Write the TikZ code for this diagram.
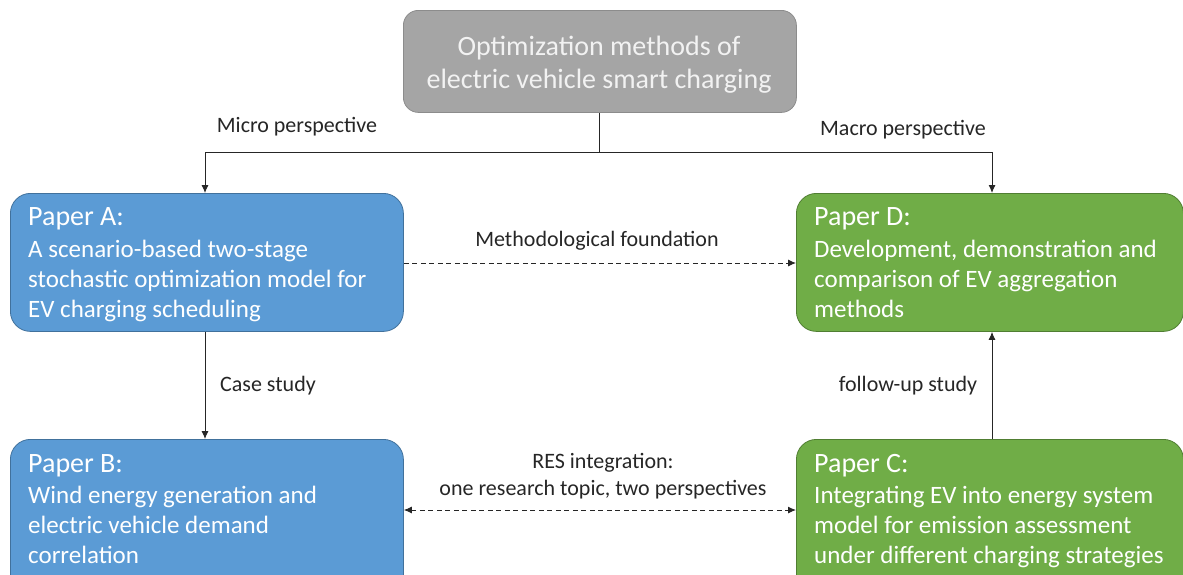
\documentclass[tikz,border=0pt]{standalone}
\usepackage{fontspec}
\setmainfont{Carlito}
\usetikzlibrary{arrows.meta}
\definecolor{gbox}{HTML}{A5A5A5}
\definecolor{gline}{HTML}{8C8C8C}
\definecolor{bbox}{HTML}{5B9BD5}
\definecolor{bline}{HTML}{41719C}
\definecolor{grbox}{HTML}{70AD47}
\definecolor{grline}{HTML}{507E32}
\definecolor{txtw}{HTML}{F2F2F2}
\tikzset{
  paperbox/.style={draw, line width=0.8pt, rounded corners=20pt, inner sep=0pt},
  ttl/.style={anchor=base west, inner sep=0pt, text=white, font=\fontsize{28}{32}\selectfont},
  body/.style={anchor=base west, inner sep=0pt, text=white, font=\fontsize{25}{30}\selectfont},
  lbl/.style={inner sep=0pt, text=black!85, font=\fontsize{22}{27}\selectfont, align=center},
  conn/.style={line width=0.9pt, black!85},
  tip/.style={-{Latex[length=8pt,width=7pt]}},
  dsh/.style={dash pattern=on 5pt off 3.5pt}
}
\begin{document}
\begin{tikzpicture}[x=1pt,y=-1pt]
\clip (0,0) rectangle (1183,574);
\useasboundingbox (0,0) rectangle (1183,574);
% boxes
\node[draw=gline, fill=gbox, line width=0.8pt, rounded corners=15pt, minimum width=393pt, minimum height=102pt, anchor=north west, inner sep=0pt] (top) at (403,10) {};
\node[anchor=base, inner sep=0pt, text=txtw, font=\fontsize{28}{33}\selectfont] (top1) at (599,55) {Optimization methods of};
\node[anchor=base, inner sep=0pt, text=txtw, font=\fontsize{28}{33}\selectfont] (top2) at (599,88) {electric vehicle smart charging};
\node[paperbox, draw=bline, fill=bbox, minimum width=393pt, minimum height=138pt, anchor=north west] (A) at (10,193) {};
\node[paperbox, draw=grline, fill=grbox, minimum width=387pt, minimum height=138pt, anchor=north west] (D) at (796,193) {};
\node[paperbox, draw=bline, fill=bbox, minimum width=393pt, minimum height=160pt, anchor=north west] (B) at (10,439) {};
\node[paperbox, draw=grline, fill=grbox, minimum width=387pt, minimum height=160pt, anchor=north west] (C) at (796,439) {};
% texts
\node[ttl] (At) at (28,225) {Paper A:};
\node[body] (A1) at (28,257) {A scenario-based two-stage};
\node[body] (A2) at (28,287) {stochastic optimization model for};
\node[body] (A3) at (28,317) {EV charging scheduling};
\node[ttl] (Dt) at (814,225) {Paper D:};
\node[body] (D1) at (814,257) {Development, demonstration and};
\node[body] (D2) at (814,287) {comparison of EV aggregation};
\node[body] (D3) at (814,317) {methods};
\node[ttl] (Bt) at (28,472) {Paper B:};
\node[body] (B1) at (28,503) {Wind energy generation and};
\node[body] (B2) at (28,533) {electric vehicle demand};
\node[body] (B3) at (28,563) {correlation};
\node[ttl] (Ct) at (814,472) {Paper C:};
\node[body] (C1) at (814,503) {Integrating EV into energy system};
\node[body] (C2) at (814,533) {model for emission assessment};
\node[body] (C3) at (814,563) {under different charging strategies};
% connectors
\coordinate (split) at (top.south |- 0,152);
\coordinate (lft) at (205,152);
\coordinate (rgt) at (992,152);
\draw[conn] (top.south) -- (split);
\draw[conn, tip] (split) -- (lft) -- (lft |- A.north);
\draw[conn, tip] (split) -- (rgt) -- (rgt |- D.north);
\draw[conn, tip, dsh] (A.east |- 0,263) -- (D.west |- 0,263);
\draw[conn, tip] (lft |- A.south) -- (lft |- B.north);
\draw[conn, tip] (rgt |- C.north) -- (rgt |- D.south);
\draw[conn, dsh, {Latex[length=8pt,width=7pt]}-{Latex[length=8pt,width=7pt]}] (B.east |- 0,510) -- (C.west |- 0,510);
% labels
\node[lbl] (micro) at (297,127) {Micro perspective};
\node[lbl] (macro) at (903,130) {Macro perspective};
\node[lbl] (meth) at (597,241) {Methodological foundation};
\node[lbl] (case) at (268,386) {Case study};
\node[lbl] (follow) at (908,386) {follow-up study};
\node[lbl] (res) at (603,476) {RES integration:\\one research topic, two perspectives};
\end{tikzpicture}
\end{document}
